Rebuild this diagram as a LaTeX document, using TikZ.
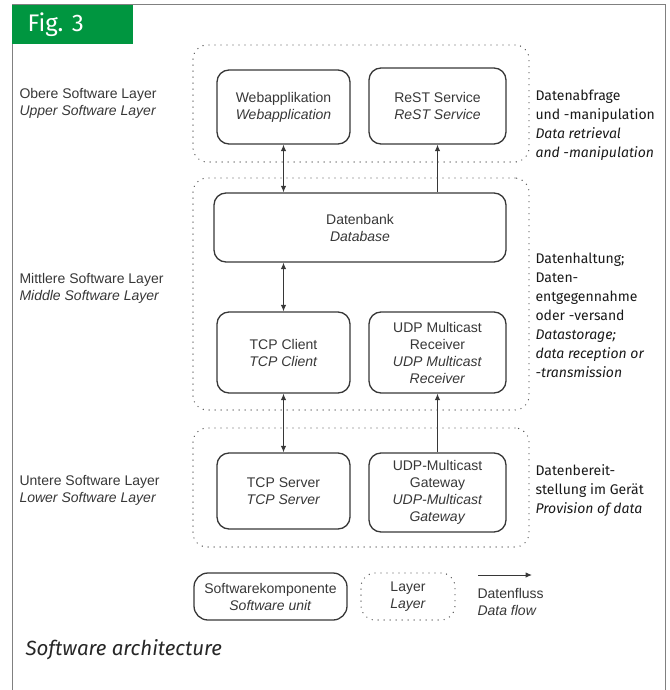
\documentclass[tikz,border=0pt]{standalone}
\usepackage{fontspec}
\setmainfont{Liberation Sans}
\newfontfamily\notefont{Fira Sans}
\usetikzlibrary{arrows.meta,positioning,calc}

\definecolor{figgreen}{RGB}{0,150,64}
\definecolor{ink}{RGB}{55,55,55}

\tikzset{
  unit/.style={draw=ink, line width=1.3pt, rounded corners=12pt, align=center,
    font=\fontsize{14}{17}\selectfont, text=ink, inner sep=2pt},
  layer/.style={draw=ink!85, line width=1.4pt, line cap=round,
    dash pattern=on 0pt off 6pt, rounded corners=14pt},
  flow/.style={draw=ink, line width=1pt},
  sidelabel/.style={anchor=west, align=left, text=ink,
    font=\fontsize{14}{17}\selectfont},
  notelabel/.style={anchor=west, align=left, text=black!90,
    font=\notefont\fontsize{14}{19}\selectfont},
}

\begin{document}
\begin{tikzpicture}[x=1pt,y=-1pt, >={Latex[length=6.5pt,width=5.5pt]}]
\useasboundingbox (0,0) rectangle (669,690);

% frame and figure tag
\draw[gray, line width=1pt] (12,690) -- (12,5) -- (665,5) -- (665,690);
\fill[figgreen] (12,5) rectangle (133,44);
\node[anchor=west, text=white, font=\notefont\fontsize{24}{28}\selectfont] (tag) at (24,25) {Fig. 3};

% layers
\node[layer, minimum width=336pt, minimum height=117pt] (upper) at (361,103.5) {};
\node[layer, minimum width=336pt, minimum height=232pt] (middle) at (361,294) {};
\node[layer, minimum width=336pt, minimum height=119pt] (lower) at (361,487.5) {};

% software units
\node[unit, minimum width=133pt, minimum height=74pt] (web) at (283.5,107) {Webapplikation\\\textit{Webapplication}};
\node[unit, minimum width=137pt, minimum height=76pt] (rest) at (437.5,106) {ReST Service\\\textit{ReST Service}};
\node[unit, minimum width=292pt, minimum height=69pt] (db) at (360,227.5) {Datenbank\\\textit{Database}};
\node[unit, minimum width=133pt, minimum height=81pt] (tcpc) at (283.5,352.5) {TCP Client\\\textit{TCP Client}};
\node[unit, minimum width=137pt, minimum height=81pt] (udpr) at (437.5,352.5) {UDP Multicast\\Receiver\\\textit{UDP Multicast}\\\textit{Receiver}};
\node[unit, minimum width=133pt, minimum height=76pt] (tcps) at (283.5,491) {TCP Server\\\textit{TCP Server}};
\node[unit, minimum width=137pt, minimum height=79pt] (udpg) at (437.5,492.5) {UDP-Multicast\\Gateway\\\textit{UDP-Multicast}\\\textit{Gateway}};

% data flow
\draw[flow, <->] (web.south) -- (web.south |- db.north);
\draw[flow, ->] (rest.south |- db.north) -- (rest.south);
\draw[flow, <->] (db.south -| tcpc.north) -- (tcpc.north);
\draw[flow, <->] (tcpc.south) -- (tcps.north);
\draw[flow, ->] (udpg.north) -- (udpr.south);

% layer names
\node[sidelabel] (upname) at (16,103) {Obere Software Layer\\\textit{Upper Software Layer}};
\node[sidelabel] (midname) at (16,288) {Mittlere Software Layer\\\textit{Middle Software Layer}};
\node[sidelabel] (lowname) at (16,490) {Untere Software Layer\\\textit{Lower Software Layer}};

% layer notes
\node[notelabel] (upnote) at (532,125) {Datenabfrage\\und -manipulation\\\textit{Data retrieval}\\\textit{and -manipulation}};
\node[notelabel] (midnote) at (532,315) {Datenhaltung;\\Daten-\\entgegennahme\\oder -versand\\\textit{Datastorage;}\\\textit{data reception or}\\\textit{-transmission}};
\node[notelabel] (lownote) at (532,491) {Datenbereit-\\stellung im Ger\"at\\\textit{Provision of data}};

% legend
\node[unit, minimum width=153pt, minimum height=47pt, rounded corners=14pt, inner sep=1pt] (legunit) at (270.5,596.5) {Softwarekomponente\\\textit{Software unit}};
\node[layer, minimum width=94pt, minimum height=47pt, align=center, text=ink,
  font=\fontsize{14}{17}\selectfont] (leglayer) at (408,596.5) {Layer\\\textit{Layer}};
\coordinate (flowa) at (478,575);
\coordinate (flowb) at (532,575);
\draw[flow, ->] (flowa) -- (flowb);
\node[sidelabel] (legflow) at (474,602) {Datenfluss\\\textit{Data flow}};

% caption
\node[anchor=west, text=black!85, font=\notefont\itshape\fontsize{20.5}{24}\selectfont] (caption) at (22,650) {Software architecture};
\end{tikzpicture}
\end{document}
